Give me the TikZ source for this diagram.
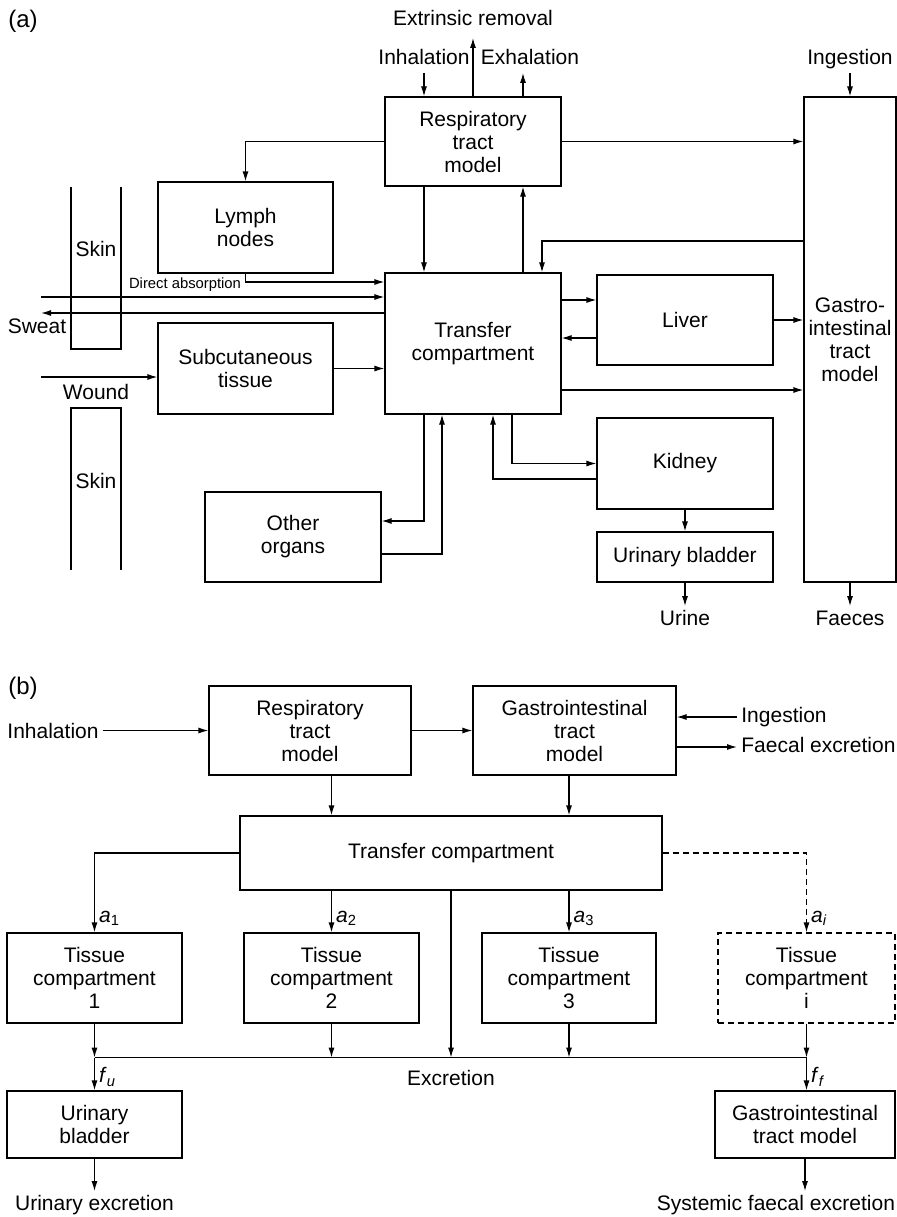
\documentclass[tikz,border=0pt]{standalone}
\usepackage{fontspec}
\setmainfont{Liberation Sans}
\usepackage{tikz}
\usetikzlibrary{positioning, arrows.meta}
\usetikzlibrary{calc}
\tikzstyle{box} = [rectangle, draw=black, line width=0.6pt, text centered, align=center, inner sep=0pt]
\tikzstyle{dbox} = [box, dash pattern=on 3pt off 2pt]
\tikzstyle{lbl} = [inner sep=2pt, text height=7.5pt, text depth=2pt]
\tikzstyle{wire} = [line width=0.6pt]
\tikzstyle{arrow} = [line width=0.6pt,-{Latex[length=5pt,width=3pt]}]
\tikzstyle{every node}=[font=\fontsize{10.5}{11.5}\selectfont]

\begin{document}
\begin{tikzpicture}[x=0.5pt, y=-0.5pt]
		\useasboundingbox (0,0) rectangle (897,1217);
		\node (la) [lbl, font=\fontsize{12}{14}\selectfont] at (23,22) {(a)};
		\node (resp) [box, minimum width=88pt, minimum height=44.5pt] at (473,141.5) {Respiratory\\tract\\model};
		\node (gi) [box, minimum width=46pt, minimum height=242.5pt] at (850,339.5) {Gastro-\\intestinal\\tract\\model};
		\node (lymph) [box, minimum width=87.5pt, minimum height=45.5pt] at (245.5,227.5) {Lymph\\nodes};
		\node (trans) [box, minimum width=88pt, minimum height=70.5pt] at (473,343.5) {Transfer\\compartment};
		\node (liver) [box, minimum width=88pt, minimum height=45pt] at (685,320) {Liver};
		\node (kidney) [box, minimum width=88pt, minimum height=45.5pt, below of=liver, node distance=71.75pt] {Kidney};
		\node (bladder) [box, minimum width=88pt, minimum height=25pt, below of=kidney, node distance=46.75pt] {Urinary bladder};
		\node (subcut) [box, minimum width=87.5pt, minimum height=45.5pt] at (245.5,368.5) {Subcutaneous\\tissue};
		\node (other) [box, minimum width=88pt, minimum height=45pt] at (293,537) {Other\\organs};
		\node (extr) [lbl] at (473,20) {Extrinsic removal};
		\node (inh) [lbl] at (424,59) {Inhalation};
		\node (exh) [lbl] at (530,59) {Exhalation};
		\node (ing) [lbl] at (850,59) {Ingestion};
		\node (urine) [lbl] at (685,620) {Urine};
		\node (faeces) [lbl] at (850,620) {Faeces};
		\node (skinA) [lbl] at (96,251) {Skin};
		\node (skinB) [lbl] at (96,483) {Skin};
		\node (sweat) [lbl] at (37,328) {Sweat};
		\node (wound) [lbl] at (96,394) {Wound};
		\node (direct) [lbl, font=\fontsize{7.4}{8}\selectfont, text height=5.3pt, text depth=1.5pt] at (185,285) {Direct absorption};
		\coordinate (daIn) at (41,297);
		\coordinate (swOut) at (41,313);
		\coordinate (wdIn) at (41,377);
		\draw [wire] (71,187) -- (71,349) -- (121,349) -- (121,187);
		\draw [wire] (71,570) -- (71,408) -- (121,408) -- (121,570);
		\draw [arrow](inh.south) -- (inh.south |- resp.north);
		\draw [arrow, shorten >=2pt](resp.north) -- (extr.south);
		\draw [arrow]([xshift=25pt]resp.north) -- ([xshift=25pt]resp.north |- exh.south);
		\draw [arrow](ing.south) -- (gi.north);
		\draw [arrow](resp.east) -- (resp.east -| gi.west);
		\draw [arrow](resp.west) -| (lymph.north);
		\draw [arrow]([xshift=-24.5pt]resp.south) -- ([xshift=-24.5pt]trans.north);
		\draw [arrow]([xshift=25pt]trans.north) -- ([xshift=25pt]resp.south);
		\draw [arrow]([yshift=49.25pt]gi.west) -| ([xshift=34.5pt]trans.north);
		\draw [arrow](lymph.south) |- ([yshift=30.75pt]trans.west);
		\draw [arrow](daIn) -- (daIn -| trans.west);
		\draw [arrow](swOut -| trans.west) -- (swOut);
		\draw [arrow](wdIn) -- (wdIn -| subcut.west);
		\draw [arrow](subcut.east) -- (subcut.east -| trans.west);
		\draw [arrow]([yshift=21.75pt]trans.east) -- ([yshift=21.75pt]trans.east -| liver.west);
		\draw [arrow]([yshift=-9pt]liver.west) -- ([yshift=-9pt]liver.west -| trans.east);
		\draw [arrow](liver.east) -- (liver.east -| gi.west);
		\draw [arrow]([yshift=-23.25pt]trans.east) -- ([yshift=-23.25pt]trans.east -| gi.west);
		\draw [arrow]([xshift=19.5pt]trans.south) |- (kidney.west);
		\draw [arrow]([yshift=-7.75pt]kidney.west) -| ([xshift=10pt]trans.south);
		\draw [arrow]([xshift=-24.5pt]trans.south) |- ([yshift=8pt]other.east);
		\draw [arrow]([yshift=-8.5pt]other.east) -| ([xshift=-15.5pt]trans.south);
		\draw [arrow](kidney.south) -- (bladder.north);
		\draw [arrow](bladder.south) -- (urine.north);
		\draw [arrow](gi.south) -- (faeces.north);
		\node (lb) [lbl, font=\fontsize{12}{14}\selectfont] at (23,689) {(b)};
		\node (respB) [box, minimum width=101pt, minimum height=44.5pt] at (310,730.5) {Respiratory\\tract\\model};
		\node (giB) [box, minimum width=101.5pt, minimum height=44.5pt] at (574.5,730.5) {Gastrointestinal\\tract\\model};
		\node (transB) [box, minimum width=211pt, minimum height=37pt] at (451,853) {Transfer compartment};
		\node (tis1) [box, minimum width=87.5pt, minimum height=45pt] at (94.5,978) {Tissue\\compartment\\1};
		\node (tis2) [box, minimum width=87.5pt, minimum height=45pt, right of=tis1, node distance=118.5pt] {Tissue\\compartment\\2};
		\node (tis3) [box, minimum width=87pt, minimum height=45pt, right of=tis2, node distance=118.75pt] {Tissue\\compartment\\3};
		\node (tisi) [dbox, minimum width=88.5pt, minimum height=45pt, right of=tis3, node distance=118.75pt] {Tissue\\compartment\\i};
		\node (bladB) [box, minimum width=87.5pt, minimum height=33.5pt, below of=tis1, node distance=73.25pt] {Urinary\\bladder};
		\node (giC) [box, minimum width=90pt, minimum height=33.5pt] at (805,1124.5) {Gastrointestinal\\tract model};
		\node (inhB) [lbl] at (53,733) {Inhalation};
		\node (ingB) [lbl, anchor=west] at (737,717) {Ingestion};
		\node (fexB) [lbl, anchor=west] at (737,747) {Faecal excretion};
		\node (excr) [lbl] at (451,1080) {Excretion};
		\node (uexB) [lbl] at (94.5,1205) {Urinary excretion};
		\node (sfeB) [lbl] at (776,1205) {Systemic faecal excretion};
		\coordinate (busL) at ($(tis1.south)+(0,-17pt)$);
		\coordinate (busR) at ($(tisi.south)+(0,-17pt)$);
		\draw [arrow](respB.west -| inhB.east) -- (respB.west);
		\draw [arrow](respB.east) -- (giB.west);
		\draw [arrow](ingB.west) -- (ingB.west -| giB.east);
		\draw [arrow](fexB.west -| giB.east) -- (fexB.west);
		\draw [arrow](respB.south -| tis2.north) -- (transB.north -| tis2.north);
		\draw [arrow](giB.south -| tis3.north) -- (transB.north -| tis3.north);
		\draw [arrow](transB.west) -| node[lbl, right, pos=0.9]{\textit{a}\textsubscript{1}} (tis1.north);
		\draw [arrow](transB.south -| tis2.north) -- node[lbl, right, pos=0.62]{\textit{a}\textsubscript{2}} (tis2.north);
		\draw [arrow](transB.south -| tis3.north) -- node[lbl, right, pos=0.62]{\textit{a}\textsubscript{3}} (tis3.north);
		\draw [arrow, dash pattern=on 3pt off 2pt](transB.east) -| node[lbl, right, pos=0.9]{\textit{a}\textsubscript{\textit{i}}} (tisi.north);
		\draw [arrow](transB.south) -- (transB.south |- busL);
		\draw [arrow](tis1.south) -- (busL);
		\draw [arrow](tis2.south) -- (tis2.south |- busL);
		\draw [arrow](tis3.south) -- (tis3.south |- busL);
		\draw [arrow](tisi.south) -- (busR);
		\draw [wire](busL) -- (busR);
		\draw [arrow](busL) -- node[lbl, right, pos=0.6]{\textit{f}\textsubscript{\textit{u}}} (bladB.north);
		\draw [arrow](busR) -- node[lbl, right, pos=0.6]{\textit{f}\textsubscript{\textit{f}}} (busR |- giC.north);
		\draw [arrow](bladB.south) -- (uexB.north);
		\draw [arrow](giC.south) -- (giC.south |- sfeB.north);
	\end{tikzpicture}
\end{document}
